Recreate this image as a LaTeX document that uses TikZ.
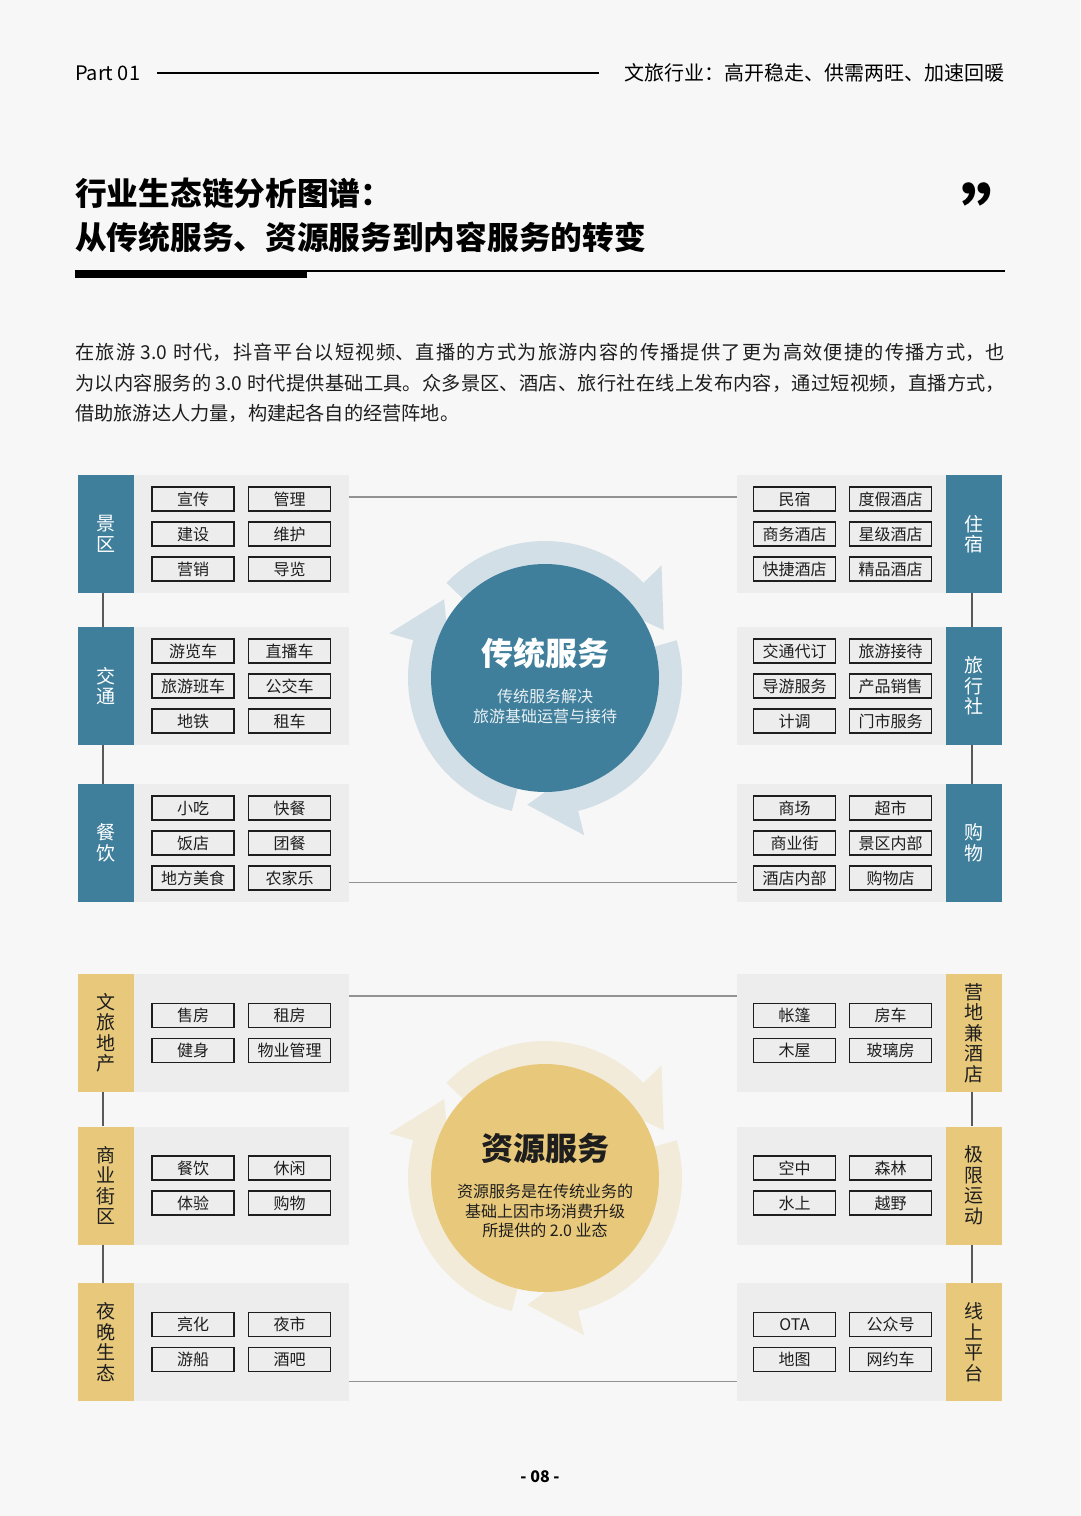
\documentclass[tikz,border=0pt]{standalone}
\usepackage{fontspec}
\setmainfont{Noto Sans CJK SC}
\usetikzlibrary{calc}
\XeTeXlinebreaklocale "zh"
\XeTeXlinebreakskip=0pt plus 2pt
\definecolor{pagebg}{HTML}{F7F7F7}
\definecolor{panelgray}{HTML}{EDEDED}
\definecolor{travelblue}{HTML}{3F7F9C}
\definecolor{ringblue}{HTML}{D3DFE6}
\definecolor{resgold}{HTML}{E8C97B}
\definecolor{ringgold}{HTML}{F3EBDA}
\definecolor{inkdark}{HTML}{1E1E1E}

\tikzset{
  panel/.style={fill=panelgray, minimum height=118pt, inner sep=0pt},
  leftpanel/.style={panel, minimum width=215pt},
  rightpanel/.style={panel, minimum width=209pt},
  catbox/.style={minimum width=56pt, minimum height=118pt, inner sep=0pt, align=center, font=\fontsize{19}{20.5}\selectfont},
  tradcat/.style={catbox, fill=travelblue, text=white},
  rescat/.style={catbox, fill=resgold, text=inkdark},
  itembox/.style={draw=inkdark, line width=1.7pt, fill=panelgray, minimum width=82pt, minimum height=24pt, inner sep=0pt, text=inkdark, font=\fontsize{16}{16}\selectfont},
  hlink/.style={draw=gray!85, line width=1.4pt},
  vlink/.style={draw=gray!70!black, line width=2pt},
}

\begin{document}
\begin{tikzpicture}[x=1pt,y=-1pt]
\fill[pagebg] (0,0) rectangle (1080,1516);
\useasboundingbox (0,0) rectangle (1080,1516);

% header
\node[anchor=west, inner sep=0, font=\fontsize{20}{24}\selectfont] (part) at (75,73) {Part 01};
\node[anchor=east, inner sep=0, font=\fontsize{20}{24}\selectfont] (chapter) at (1005,73) {文旅行业：高开稳走、供需两旺、加速回暖};
\draw[line width=1.8pt] ([xshift=17pt]part.east) -- ([xshift=-26pt]chapter.west);

% title
\node[anchor=west, align=left, inner sep=0, font=\bfseries\fontsize{31.7}{44}\selectfont] (title) at (75,215) {行业生态链分析图谱：\\从传统服务、资源服务到内容服务的转变};
\node[inner sep=0, font=\bfseries\fontsize{72}{72}\selectfont] (quote) at (997,214) {”};
\draw[line width=1.5pt] (75,271) -- (1005,271);
\fill (75,269.5) rectangle (307,278);

\node[anchor=west, align=justify, text width=930pt, inner sep=0, text=inkdark, font=\fontsize{19.2}{30.5}\selectfont] (intro) at (75,383) {在旅游 3.0 时代，抖音平台以短视频、直播的方式为旅游内容的传播提供了更为高效便捷的传播方式，也\linebreak 为以内容服务的 3.0 时代提供基础工具。众多景区、酒店、旅行社在线上发布内容，通过短视频，直播方式，\linebreak 借助旅游达人力量，构建起各自的经营阵地。};

% traditional services
\begin{scope}[shift={(0,534)}]
  \node[tradcat] (cjq) at (106,0) {景\\区};
  \node[leftpanel] (pjq) at (241.5,0) {};
  \foreach \t [count=\i from 0] in {宣传,管理,建设,维护,营销,导览}
    \node[itembox] (jq\i) at ({193+96.5*mod(\i,2)},{-35+35*int(\i/2)}) {\t};
\end{scope}
\begin{scope}[shift={(0,686)}]
  \node[tradcat] (cjt) at (106,0) {交\\通};
  \node[leftpanel] (pjt) at (241.5,0) {};
  \foreach \t [count=\i from 0] in {游览车,直播车,旅游班车,公交车,地铁,租车}
    \node[itembox] (jt\i) at ({193+96.5*mod(\i,2)},{-35+35*int(\i/2)}) {\t};
\end{scope}
\begin{scope}[shift={(0,843)}]
  \node[tradcat] (ccy) at (106,0) {餐\\饮};
  \node[leftpanel] (pcy) at (241.5,0) {};
  \foreach \t [count=\i from 0] in {小吃,快餐,饭店,团餐,地方美食,农家乐}
    \node[itembox] (cy\i) at ({193+96.5*mod(\i,2)},{-35+35*int(\i/2)}) {\t};
\end{scope}
\begin{scope}[shift={(0,534)}]
  \node[tradcat] (czs) at (974,0) {住\\宿};
  \node[rightpanel] (pzs) at (841.5,0) {};
  \foreach \t [count=\i from 0] in {民宿,度假酒店,商务酒店,星级酒店,快捷酒店,精品酒店}
    \node[itembox] (zs\i) at ({794.5+96*mod(\i,2)},{-35+35*int(\i/2)}) {\t};
\end{scope}
\begin{scope}[shift={(0,686)}]
  \node[tradcat] (clxs) at (974,0) {旅\\行\\社};
  \node[rightpanel] (plxs) at (841.5,0) {};
  \foreach \t [count=\i from 0] in {交通代订,旅游接待,导游服务,产品销售,计调,门市服务}
    \node[itembox] (lxs\i) at ({794.5+96*mod(\i,2)},{-35+35*int(\i/2)}) {\t};
\end{scope}
\begin{scope}[shift={(0,843)}]
  \node[tradcat] (cgw) at (974,0) {购\\物};
  \node[rightpanel] (pgw) at (841.5,0) {};
  \foreach \t [count=\i from 0] in {商场,超市,商业街,景区内部,酒店内部,购物店}
    \node[itembox] (gw\i) at ({794.5+96*mod(\i,2)},{-35+35*int(\i/2)}) {\t};
\end{scope}

\draw[vlink] ([xshift=-3pt]cjq.south) -- ([xshift=-3pt]cjt.north);
\draw[vlink] ([xshift=-3pt]cjt.south) -- ([xshift=-3pt]ccy.north);
\draw[vlink] ([xshift=-2pt]czs.south) -- ([xshift=-2pt]clxs.north);
\draw[vlink] ([xshift=-2pt]clxs.south) -- ([xshift=-2pt]cgw.north);
\draw[hlink] ([yshift=-22pt]pjq.north east) -- ([yshift=-22pt]pzs.north west);
\draw[hlink] ([yshift=20pt]pcy.south east) -- ([yshift=20pt]pgw.south west);

\begin{scope}[shift={(545,678)}]
  \foreach \k in {0,1,2}{
    \pgfmathsetmacro\sa{-136+120*\k}
    \pgfmathsetmacro\ba{-44+120*\k}
    \pgfmathsetmacro\ta{-22+120*\k}
    \fill[ringblue] (\sa:137) arc[start angle=\sa, end angle=\ba, radius=137] -- (\ba:162) -- (\ta:128) -- (\ba:100) arc[start angle=\ba, end angle=\sa, radius=100] -- cycle;
  }
\end{scope}
\node[circle, fill=travelblue, minimum size=228pt, inner sep=0] (trad) at (545,678) {};
\node[text=white, font=\bfseries\fontsize{32}{32}\selectfont] (tradtitle) at (545,653) {传统服务};
\node[align=center, text=white!88!travelblue, font=\fontsize{16}{20}\selectfont] (tradnote) at (545,706) {传统服务解决\\旅游基础运营与接待};

% resource services
\begin{scope}[shift={(0,1033)}]
  \node[rescat] (cwl) at (106,0) {文\\旅\\地\\产};
  \node[leftpanel] (pwl) at (241.5,0) {};
  \foreach \t [count=\i from 0] in {售房,租房,健身,物业管理}
    \node[itembox] (wl\i) at ({193+96.5*mod(\i,2)},{-17.5+35*int(\i/2)}) {\t};
\end{scope}
\begin{scope}[shift={(0,1185.5)}]
  \node[rescat] (csy) at (106,0) {商\\业\\街\\区};
  \node[leftpanel] (psy) at (241.5,0) {};
  \foreach \t [count=\i from 0] in {餐饮,休闲,体验,购物}
    \node[itembox] (sy\i) at ({193+96.5*mod(\i,2)},{-17.5+35*int(\i/2)}) {\t};
\end{scope}
\begin{scope}[shift={(0,1342)}]
  \node[rescat] (cyw) at (106,0) {夜\\晚\\生\\态};
  \node[leftpanel] (pyw) at (241.5,0) {};
  \foreach \t [count=\i from 0] in {亮化,夜市,游船,酒吧}
    \node[itembox] (yw\i) at ({193+96.5*mod(\i,2)},{-17.5+35*int(\i/2)}) {\t};
\end{scope}
\begin{scope}[shift={(0,1033)}]
  \node[rescat] (cyd) at (974,0) {营\\地\\兼\\酒\\店};
  \node[rightpanel] (pyd) at (841.5,0) {};
  \foreach \t [count=\i from 0] in {帐篷,房车,木屋,玻璃房}
    \node[itembox] (yd\i) at ({794.5+96*mod(\i,2)},{-17.5+35*int(\i/2)}) {\t};
\end{scope}
\begin{scope}[shift={(0,1185.5)}]
  \node[rescat] (cjx) at (974,0) {极\\限\\运\\动};
  \node[rightpanel] (pjx) at (841.5,0) {};
  \foreach \t [count=\i from 0] in {空中,森林,水上,越野}
    \node[itembox] (jx\i) at ({794.5+96*mod(\i,2)},{-17.5+35*int(\i/2)}) {\t};
\end{scope}
\begin{scope}[shift={(0,1342)}]
  \node[rescat] (cxs) at (974,0) {线\\上\\平\\台};
  \node[rightpanel] (pxs) at (841.5,0) {};
  \foreach \t [count=\i from 0] in {OTA,公众号,地图,网约车}
    \node[itembox] (xs\i) at ({794.5+96*mod(\i,2)},{-17.5+35*int(\i/2)}) {\t};
\end{scope}

\draw[vlink] ([xshift=-3pt]cwl.south) -- ([xshift=-3pt]csy.north);
\draw[vlink] ([xshift=-3pt]csy.south) -- ([xshift=-3pt]cyw.north);
\draw[vlink] ([xshift=-2pt]cyd.south) -- ([xshift=-2pt]cjx.north);
\draw[vlink] ([xshift=-2pt]cjx.south) -- ([xshift=-2pt]cxs.north);
\draw[hlink] ([yshift=-22pt]pwl.north east) -- ([yshift=-22pt]pyd.north west);
\draw[hlink] ([yshift=20pt]pyw.south east) -- ([yshift=20pt]pxs.south west);

\begin{scope}[shift={(545,1178)}]
  \foreach \k in {0,1,2}{
    \pgfmathsetmacro\sa{-136+120*\k}
    \pgfmathsetmacro\ba{-44+120*\k}
    \pgfmathsetmacro\ta{-22+120*\k}
    \fill[ringgold] (\sa:137) arc[start angle=\sa, end angle=\ba, radius=137] -- (\ba:162) -- (\ta:128) -- (\ba:100) arc[start angle=\ba, end angle=\sa, radius=100] -- cycle;
  }
\end{scope}
\node[circle, fill=resgold, minimum size=228pt, inner sep=0] (res) at (545,1178) {};
\node[text=inkdark, font=\bfseries\fontsize{32}{32}\selectfont] (restitle) at (545,1148) {资源服务};
\node[align=center, text=inkdark, font=\fontsize{16}{19.5}\selectfont] (resnote) at (545,1211) {资源服务是在传统业务的\\基础上因市场消费升级\\所提供的 2.0 业态};

\node[font=\bfseries\fontsize{16}{16}\selectfont] (pageno) at (540,1477) {- 08 -};
\end{tikzpicture}
\end{document}
